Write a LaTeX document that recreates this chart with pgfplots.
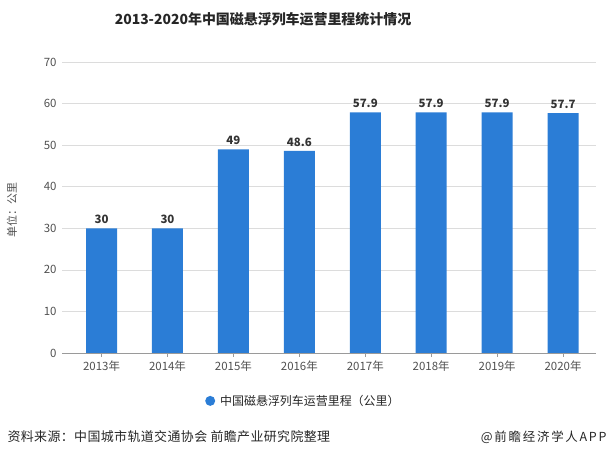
\documentclass[border=0pt]{standalone}
\usepackage{pgfplots}
\pgfplotsset{compat=1.18}
\usepackage{fontspec}
\setmainfont{Noto Sans CJK SC}
\newfontfamily\spaced[LetterSpace=14]{Noto Sans CJK SC}
\newfontfamily\spacedb[LetterSpace=3]{Noto Sans CJK SC}
\definecolor{barblue}{RGB}{43,125,214}
\definecolor{gridgray}{RGB}{220,220,220}
\definecolor{txtgray}{RGB}{80,80,80}
\begin{document}
\begin{tikzpicture}[x=1bp,y=1bp]
\useasboundingbox (0,0) rectangle (612,457);
\node[font=\fontsize{14}{16}\selectfont\bfseries, text=black!85] at (263,438) {2013-2020年中国磁悬浮列车运营里程统计情况};
\begin{axis}[
  at={(62bp,104bp)}, anchor=south west,
  scale only axis, width=534bp, height=291bp,
  ymin=0, ymax=70, ytick={0,10,...,70},
  xmin=-0.6, xmax=7.5,
  xtick=data,
  xticklabels={2013年,2014年,2015年,2016年,2017年,2018年,2019年,2020年},
  ymajorgrids, grid style={gridgray, line width=0.6pt},
  axis y line=left, axis x line=bottom,
  y axis line style={draw=none},
  x axis line style={gridgray!70!black, line width=0.6pt, -},
  major y tick style={draw=none},
  major x tick style={gridgray!70!black, line width=0.6pt},
  xtick align=outside, major tick length=4bp,
  tick label style={font=\fontsize{11.5}{13}\selectfont, text=txtgray},
  /pgf/number format/assume math mode=true,
  ybar, bar width=31bp,
  nodes near coords, every node near coord/.append style={font=\fontsize{11.5}{13}\selectfont\bfseries, text=black!80, yshift=1bp},
  legend style={at={(0.452,-0.13)}, anchor=north, draw=none, font=\fontsize{12}{14}\selectfont, text=black!85},
  legend image code/.code={\fill[barblue] (0.2cm,0) circle (5bp);},
  clip=false,
]
\addplot[fill=barblue, draw=none] coordinates {(0,30) (1,30) (2,49) (3,48.6) (4,57.9) (5,57.9) (6,57.9) (7,57.7)};
\addlegendentry{\hspace{3bp}中国磁悬浮列车运营里程（公里）}
\end{axis}
\node[rotate=90, font=\fontsize{11}{13}\selectfont, text=txtgray] at (12,247) {单位：公里};
\node[anchor=west, font=\fontsize{13}{15}\spacedb, text=black!85] at (4,20) {资料来源：中国城市轨道交通协会 前瞻产业研究院整理};
\node[anchor=east, font=\fontsize{12.5}{14}\spaced, text=black!85] at (610,20) {@前瞻经济学人APP};
\end{tikzpicture}
\end{document}
